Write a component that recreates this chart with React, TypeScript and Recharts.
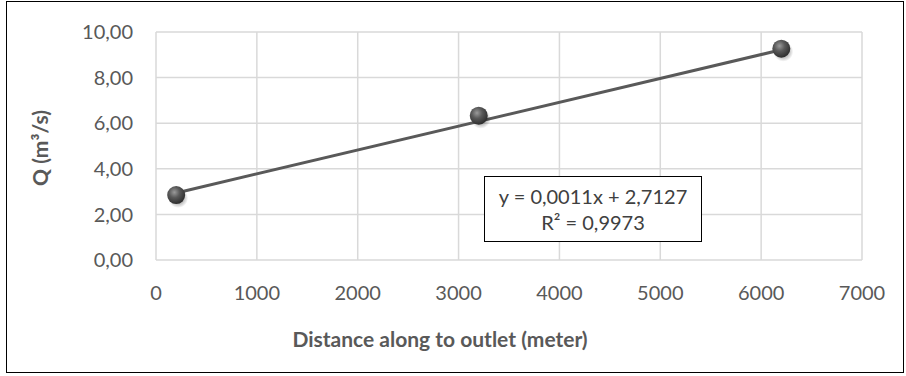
// @ts-nocheck
import { ScatterChart, Scatter, XAxis, YAxis, CartesianGrid, Label } from 'recharts';

// measured points
const distance = [200, 3200, 6200];
const discharge = [2.85, 6.33, 9.27];

// linear trendline, ends
const trendDistance = [200, 6200];
const trendDischarge = [2.94, 9.22];

const xTicks = [0, 1000, 2000, 3000, 4000, 5000, 6000, 7000];
const yTicks = [0, 2, 4, 6, 8, 10];

const equation = 'y = 0,0011x + 2,7127';
const rSquared = 'R² = 0,9973';

const points = distance.map((x, i) => ({ x, y: discharge[i] }));
const trend = trendDistance.map((x, i) => ({ x, y: trendDischarge[i] }));

const FONT = 'Lato, "Open Sans", sans-serif';
const GREY = '#595959';

const fmtY = (v: number) => v.toFixed(2).replace('.', ',');

const Ball = ({ cx, cy }) => (
  <g>
    <circle cx={cx + 2} cy={cy + 3} r={10} fill="url(#ballShadow)" />
    <circle cx={cx} cy={cy} r={9} fill="url(#ballGrad)" />
  </g>
);

const Nothing = () => <g />;

export default function App() {
  return (
    <div style={{ position: 'absolute', left: 0, top: 0, width: 906, height: 376, background: '#fff', fontFamily: FONT }}>
      <div
        style={{
          position: 'absolute', left: 6, top: 1, width: 898, height: 372,
          border: '1.5px solid #000', boxSizing: 'border-box',
        }}
      />
      <ScatterChart width={906} height={376} margin={{ top: 32, right: 44, left: 0, bottom: 0 }}>
        <defs>
          <radialGradient id="ballGrad" cx="40%" cy="35%" r="65%">
            <stop offset="0%" stopColor="#9a9a9a" />
            <stop offset="45%" stopColor="#5a5a5a" />
            <stop offset="100%" stopColor="#2e2e2e" />
          </radialGradient>
          <radialGradient id="ballShadow" cx="50%" cy="50%" r="50%">
            <stop offset="50%" stopColor="#000" stopOpacity={0.3} />
            <stop offset="100%" stopColor="#000" stopOpacity={0} />
          </radialGradient>
        </defs>
        <CartesianGrid stroke="#d9d9d9" strokeWidth={1.5} />
        <XAxis
          type="number"
          dataKey="x"
          domain={[0, 7000]}
          ticks={xTicks}
          height={116}
          axisLine={false}
          tickLine={false}
          tickSize={0}
          tickMargin={26}
          tick={{ fontSize: 20, fill: GREY, fontFamily: FONT }}
        >
          <Label
            content={() => (
              <text x={440} y={347} textAnchor="middle" fontSize={21} fontWeight={700} fill={GREY} fontFamily={FONT}>
                Distance along to outlet (meter)
              </text>
            )}
          />
        </XAxis>
        <YAxis
          type="number"
          dataKey="y"
          domain={[0, 10]}
          ticks={yTicks}
          width={156}
          axisLine={false}
          tickLine={false}
          tickSize={0}
          tickMargin={23}
          tickFormatter={fmtY}
          tick={{ fontSize: 20, fill: GREY, fontFamily: FONT }}
        >
          <Label
            content={() => (
              <text
                x={0}
                y={0}
                transform="translate(48 148) rotate(-90)"
                textAnchor="middle"
                fontSize={21}
                fontWeight={700}
                fill={GREY}
                fontFamily={FONT}
              >
                Q (m³/s)
              </text>
            )}
          />
        </YAxis>
        <Scatter
          data={trend}
          line={{ stroke: GREY, strokeWidth: 3 }}
          shape={Nothing}
          isAnimationActive={false}
        />
        <Scatter data={points} shape={Ball} isAnimationActive={false} />
      </ScatterChart>
      <div
        style={{
          position: 'absolute', left: 484, top: 176, width: 218, height: 66,
          border: '1.5px solid #000', boxSizing: 'border-box', background: '#fff',
          color: '#404040', fontSize: 20, lineHeight: '26px', textAlign: 'center',
          paddingTop: 6,
        }}
      >
        <div>{equation}</div>
        <div>{rSquared}</div>
      </div>
    </div>
  );
}
